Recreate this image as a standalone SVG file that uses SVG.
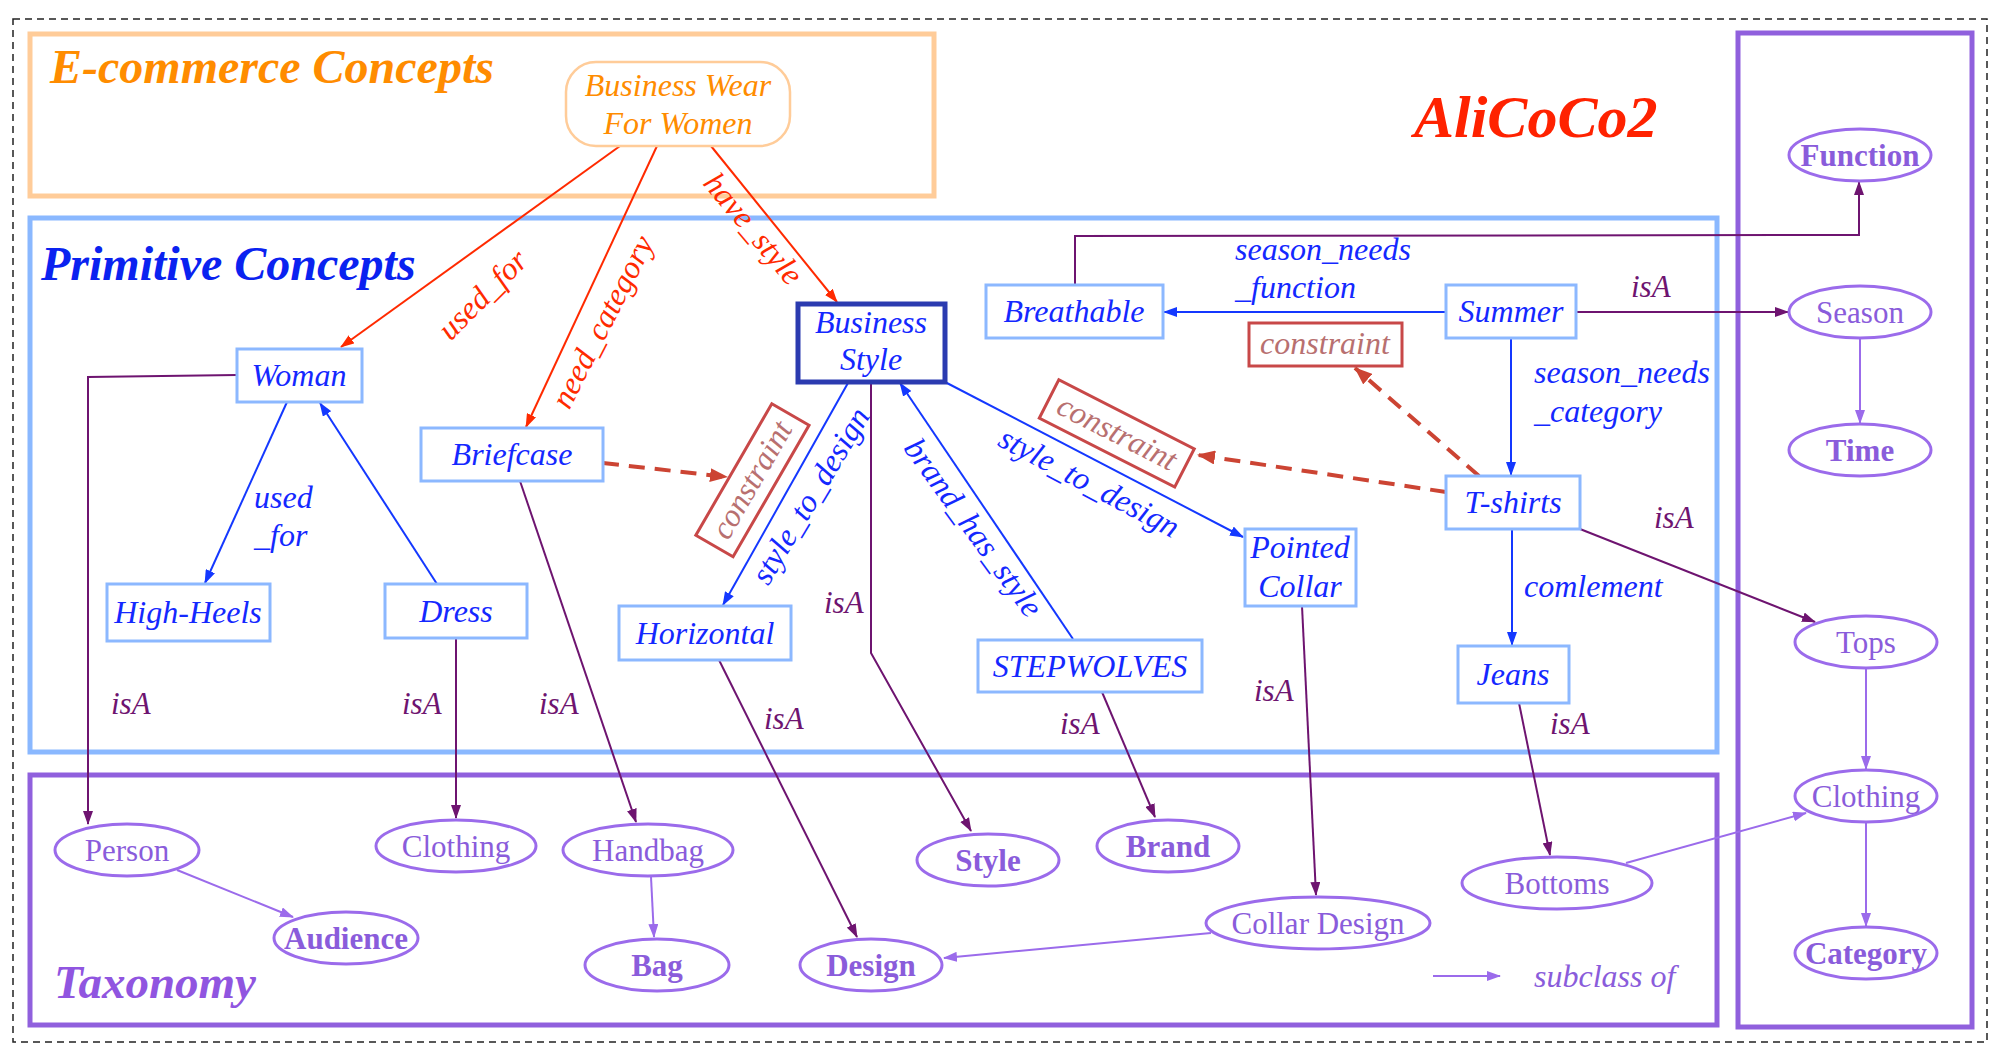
<svg xmlns="http://www.w3.org/2000/svg" width="2002" height="1054" viewBox="0 0 2002 1054">
<style>
.frame{fill:none;stroke-width:5}
.nb{fill:#fff;stroke:#8CB8FF;stroke-width:3}
.nt{font-family:"Liberation Serif",serif;font-style:italic;font-size:32px;fill:#1428FF;text-anchor:middle}
.el{fill:#fff;stroke:#9B6BEB;stroke-width:3}
.et{font-family:"Liberation Serif",serif;font-size:31px;fill:#8A5CDB;text-anchor:middle}
.b{font-weight:bold}
.title{font-family:"Liberation Serif",serif;font-style:italic;font-weight:bold}
.lbl{font-family:"Liberation Serif",serif;font-style:italic;font-size:32px}
.red{stroke:#FF2A00;stroke-width:2;fill:none}
.blue{stroke:#1438FF;stroke-width:2;fill:none}
.dp{stroke:#6E1470;stroke-width:2;fill:none}
.lp{stroke:#9B6BEB;stroke-width:2;fill:none}
.dash{stroke:#CC4433;stroke-width:4;fill:none;stroke-dasharray:16 10}
.cbox{fill:#fff;stroke:#C84848;stroke-width:3}
.ctext{font-family:"Liberation Serif",serif;font-style:italic;font-size:32px;fill:#B87070;text-anchor:middle}
.redt{fill:#FF2A00}
.bluet{fill:#1428FF}
.dpt{fill:#6E1470;font-size:31px}
</style>
<defs>
<marker id="aRed" markerUnits="userSpaceOnUse" markerWidth="14" markerHeight="10" refX="13" refY="5" orient="auto"><path d="M0,0 L14,5 L0,10 z" fill="#FF2A00"/></marker>
<marker id="aBlue" markerUnits="userSpaceOnUse" markerWidth="14" markerHeight="10" refX="13" refY="5" orient="auto"><path d="M0,0 L14,5 L0,10 z" fill="#1438FF"/></marker>
<marker id="aDp" markerUnits="userSpaceOnUse" markerWidth="14" markerHeight="10" refX="13" refY="5" orient="auto"><path d="M0,0 L14,5 L0,10 z" fill="#6E1470"/></marker>
<marker id="aLp" markerUnits="userSpaceOnUse" markerWidth="14" markerHeight="10" refX="13" refY="5" orient="auto"><path d="M0,0 L14,5 L0,10 z" fill="#9B6BEB"/></marker>
<marker id="aDash" markerUnits="userSpaceOnUse" markerWidth="18" markerHeight="14" refX="17" refY="7" orient="auto"><path d="M0,0 L18,7 L0,14 z" fill="#CC4433"/></marker>
</defs>
<rect width="2002" height="1054" fill="#fff"/>
<!-- frames -->
<g id="frames">
<rect x="13" y="19" width="1974" height="1023" fill="none" stroke="#222" stroke-width="1.5" stroke-dasharray="7 5"/>
<rect class="frame" x="30" y="34" width="904" height="162" stroke="#FFCC99"/>
<rect class="frame" x="30" y="218" width="1687" height="534" stroke="#8AB8FF"/>
<rect class="frame" x="30" y="775" width="1687" height="250" stroke="#9060DD"/>
<rect class="frame" x="1738" y="33" width="234" height="994" stroke="#9060DD"/>
<text class="title" x="50" y="83" font-size="48" fill="#FF8C00">E-commerce Concepts</text>
<text class="title" x="41" y="280" font-size="48" fill="#0A22F0">Primitive Concepts</text>
<text class="title" x="54" y="998" font-size="47" fill="#9055E0">Taxonomy</text>
<text class="title" x="1414" y="137" font-size="60" fill="#FF2200">AliCoCo2</text>
</g>
<!-- connectors -->
<g id="connectors">
<line class="red" x1="620" y1="146" x2="341" y2="347" marker-end="url(#aRed)"/>
<line class="red" x1="657" y1="146" x2="526" y2="427" marker-end="url(#aRed)"/>
<line class="red" x1="711" y1="146" x2="837" y2="302" marker-end="url(#aRed)"/>
<text class="lbl redt" text-anchor="middle" transform="translate(483,295) rotate(-45)" y="10">used_for</text>
<text class="lbl redt" text-anchor="middle" transform="translate(603,322) rotate(-63)" y="10">need_category</text>
<text class="lbl redt" text-anchor="middle" transform="translate(753,229) rotate(50)" y="10">have_style</text>

<line class="blue" x1="287" y1="402" x2="205" y2="583" marker-end="url(#aBlue)"/>
<line class="blue" x1="437" y1="584" x2="320" y2="403" marker-end="url(#aBlue)"/>
<line class="blue" x1="848" y1="383" x2="723" y2="605" marker-end="url(#aBlue)"/>
<line class="blue" x1="1073" y1="639" x2="900" y2="383" marker-end="url(#aBlue)"/>
<line class="blue" x1="945" y1="382" x2="1243" y2="537" marker-end="url(#aBlue)"/>
<line class="blue" x1="1446" y1="312" x2="1164" y2="312" marker-end="url(#aBlue)"/>
<line class="blue" x1="1511" y1="338" x2="1511" y2="475" marker-end="url(#aBlue)"/>
<line class="blue" x1="1512" y1="529" x2="1512" y2="645" marker-end="url(#aBlue)"/>
<text class="lbl bluet" x="254" y="508">used</text>
<text class="lbl bluet" x="254" y="546">_for</text>
<text class="lbl bluet" text-anchor="middle" transform="translate(811,496) rotate(-59)" y="10">style_to_design</text>
<text class="lbl bluet" text-anchor="middle" transform="translate(973,528) rotate(54)" y="10">brand_has_style</text>
<text class="lbl bluet" text-anchor="middle" transform="translate(1089,483) rotate(28)" y="10">style_to_design</text>
<text class="lbl bluet" x="1235" y="260">season_needs</text>
<text class="lbl bluet" x="1235" y="298">_function</text>
<text class="lbl bluet" x="1534" y="383">season_needs</text>
<text class="lbl bluet" x="1534" y="422">_category</text>
<text class="lbl bluet" x="1524" y="597">comlement</text>

<line class="dash" x1="603" y1="463" x2="727" y2="477" marker-end="url(#aDash)"/>
<line class="dash" x1="1446" y1="492" x2="1198" y2="455" marker-end="url(#aDash)"/>
<line class="dash" x1="1479" y1="476" x2="1355" y2="368" marker-end="url(#aDash)"/>

<polyline class="dp" points="237,375 88,377 88,824" marker-end="url(#aDp)"/>
<line class="dp" x1="456" y1="638" x2="456" y2="818" marker-end="url(#aDp)"/>
<line class="dp" x1="520" y1="481" x2="636" y2="822" marker-end="url(#aDp)"/>
<line class="dp" x1="719" y1="660" x2="857" y2="937" marker-end="url(#aDp)"/>
<polyline class="dp" points="871,382 871,653 971,831" marker-end="url(#aDp)"/>
<line class="dp" x1="1102" y1="692" x2="1155" y2="817" marker-end="url(#aDp)"/>
<line class="dp" x1="1302" y1="606" x2="1316" y2="895" marker-end="url(#aDp)"/>
<line class="dp" x1="1519" y1="703" x2="1550" y2="855" marker-end="url(#aDp)"/>
<line class="dp" x1="1580" y1="529" x2="1815" y2="622" marker-end="url(#aDp)"/>
<line class="dp" x1="1577" y1="312" x2="1788" y2="312" marker-end="url(#aDp)"/>
<polyline class="dp" points="1075,285 1075,236 1859,235 1859,182" marker-end="url(#aDp)"/>
<text class="lbl dpt" x="111" y="714">isA</text>
<text class="lbl dpt" x="402" y="714">isA</text>
<text class="lbl dpt" x="539" y="714">isA</text>
<text class="lbl dpt" x="764" y="729">isA</text>
<text class="lbl dpt" x="824" y="613">isA</text>
<text class="lbl dpt" x="1060" y="734">isA</text>
<text class="lbl dpt" x="1254" y="701">isA</text>
<text class="lbl dpt" x="1550" y="734">isA</text>
<text class="lbl dpt" x="1654" y="528">isA</text>
<text class="lbl dpt" x="1631" y="297">isA</text>

<line class="lp" x1="177" y1="870" x2="293" y2="917" marker-end="url(#aLp)"/>
<line class="lp" x1="651" y1="877" x2="654" y2="937" marker-end="url(#aLp)"/>
<line class="lp" x1="1211" y1="933" x2="944" y2="958" marker-end="url(#aLp)"/>
<line class="lp" x1="1626" y1="863" x2="1806" y2="813" marker-end="url(#aLp)"/>
<line class="lp" x1="1860" y1="338" x2="1860" y2="423" marker-end="url(#aLp)"/>
<line class="lp" x1="1866" y1="668" x2="1866" y2="769" marker-end="url(#aLp)"/>
<line class="lp" x1="1866" y1="822" x2="1866" y2="926" marker-end="url(#aLp)"/>
<line class="lp" x1="1433" y1="976" x2="1500" y2="976" marker-end="url(#aLp)"/>
<text class="lbl" x="1534" y="987" fill="#8A5CDB">subclass of</text>
</g>
<!-- constraint boxes -->
<g id="constraint1" transform="translate(752,480) rotate(-60)">
<rect class="cbox" x="-76" y="-21" width="152" height="43"/>
<text class="ctext" y="10">constraint</text>
</g>
<g id="constraint2" transform="translate(1117,433) rotate(27)">
<rect class="cbox" x="-76" y="-21" width="152" height="43"/>
<text class="ctext" y="10">constraint</text>
</g>
<g id="constraint3">
<rect class="cbox" x="1249" y="323" width="153" height="43"/>
<text class="ctext" x="1325" y="354">constraint</text>
</g>
<!-- nodes -->
<g id="business-wear">
<rect x="566" y="62" width="224" height="84" rx="30" fill="#fff" stroke="#FFCC99" stroke-width="2.5"/>
<text class="nt" x="678" y="96" style="fill:#FF8C00">Business Wear</text>
<text class="nt" x="678" y="134" style="fill:#FF8C00">For Women</text>
</g>
<g id="business-style">
<rect x="798" y="304" width="147" height="78" fill="#fff" stroke="#2B3BB0" stroke-width="5"/>
<text class="nt" x="871" y="333">Business</text>
<text class="nt" x="871" y="370">Style</text>
</g>
<g id="woman"><rect class="nb" x="237" y="349" width="125" height="53"/><text class="nt" x="299" y="386">Woman</text></g>
<g id="briefcase"><rect class="nb" x="421" y="428" width="182" height="53"/><text class="nt" x="512" y="465">Briefcase</text></g>
<g id="high-heels"><rect class="nb" x="107" y="584" width="163" height="57"/><text class="nt" x="188" y="623">High-Heels</text></g>
<g id="dress"><rect class="nb" x="385" y="584" width="142" height="54"/><text class="nt" x="456" y="622">Dress</text></g>
<g id="horizontal"><rect class="nb" x="619" y="606" width="172" height="54"/><text class="nt" x="705" y="644">Horizontal</text></g>
<g id="stepwolves"><rect class="nb" x="978" y="640" width="224" height="52"/><text class="nt" x="1090" y="677">STEPWOLVES</text></g>
<g id="pointed-collar"><rect class="nb" x="1245" y="529" width="111" height="77"/><text class="nt" x="1300" y="558">Pointed</text><text class="nt" x="1300" y="597">Collar</text></g>
<g id="jeans"><rect class="nb" x="1458" y="646" width="111" height="57"/><text class="nt" x="1513" y="685">Jeans</text></g>
<g id="t-shirts"><rect class="nb" x="1446" y="476" width="134" height="53"/><text class="nt" x="1513" y="513">T-shirts</text></g>
<g id="summer"><rect class="nb" x="1446" y="285" width="130" height="53"/><text class="nt" x="1511" y="322">Summer</text></g>
<g id="breathable"><rect class="nb" x="986" y="285" width="177" height="53"/><text class="nt" x="1074" y="322">Breathable</text></g>

<g id="function"><ellipse class="el" cx="1860" cy="155" rx="71" ry="26"/><text class="et b" x="1860" y="166">Function</text></g>
<g id="season"><ellipse class="el" cx="1860" cy="312" rx="71" ry="26"/><text class="et" x="1860" y="323">Season</text></g>
<g id="time"><ellipse class="el" cx="1860" cy="450" rx="71" ry="26"/><text class="et b" x="1860" y="461">Time</text></g>
<g id="tops"><ellipse class="el" cx="1866" cy="642" rx="71" ry="26"/><text class="et" x="1866" y="653">Tops</text></g>
<g id="clothing-r"><ellipse class="el" cx="1866" cy="796" rx="71" ry="26"/><text class="et" x="1866" y="807">Clothing</text></g>
<g id="category"><ellipse class="el" cx="1866" cy="953" rx="71" ry="26"/><text class="et b" x="1866" y="964">Category</text></g>
<g id="person"><ellipse class="el" cx="127" cy="850" rx="72" ry="26"/><text class="et" x="127" y="861">Person</text></g>
<g id="clothing-l"><ellipse class="el" cx="456" cy="846" rx="80" ry="26"/><text class="et" x="456" y="857">Clothing</text></g>
<g id="handbag"><ellipse class="el" cx="648" cy="850" rx="85" ry="26"/><text class="et" x="648" y="861">Handbag</text></g>
<g id="audience"><ellipse class="el" cx="346" cy="938" rx="72" ry="26"/><text class="et b" x="346" y="949">Audience</text></g>
<g id="bag"><ellipse class="el" cx="657" cy="965" rx="72" ry="26"/><text class="et b" x="657" y="976">Bag</text></g>
<g id="design"><ellipse class="el" cx="871" cy="965" rx="71" ry="26"/><text class="et b" x="871" y="976">Design</text></g>
<g id="style"><ellipse class="el" cx="988" cy="860" rx="71" ry="26"/><text class="et b" x="988" y="871">Style</text></g>
<g id="brand"><ellipse class="el" cx="1168" cy="846" rx="71" ry="26"/><text class="et b" x="1168" y="857">Brand</text></g>
<g id="collar-design"><ellipse class="el" cx="1318" cy="923" rx="112" ry="26"/><text class="et" x="1318" y="934">Collar Design</text></g>
<g id="bottoms"><ellipse class="el" cx="1557" cy="883" rx="95" ry="26"/><text class="et" x="1557" y="894">Bottoms</text></g>
</svg>
